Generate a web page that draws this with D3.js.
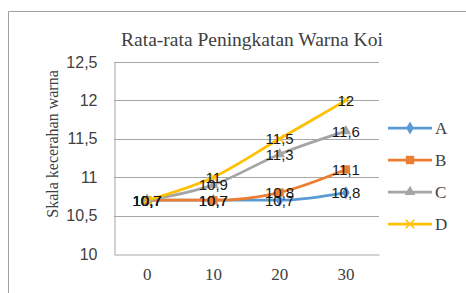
<html>
<head>
<script src="https://cdn.jsdelivr.net/npm/d3@7"></script>
<style>
body { margin: 0; background: white; }
</style>
</head>
<body>
<script>
var days = ["0", "10", "20", "30"];
var seriesNames = ["A", "B", "C", "D"];
var valA = [10.7, 10.7, 10.7, 10.8];
var valB = [10.7, 10.7, 10.8, 11.1];
var valC = [10.7, 10.9, 11.3, 11.6];
var valD = [10.7, 11, 11.5, 12];
var yTicks = [10, 10.5, 11, 11.5, 12, 12.5];
var colors = ["#5b9bd5", "#ed7d31", "#a5a5a5", "#ffc000"];

var series = [valA, valB, valC, valD].map(function(v, i){
  return { name: seriesNames[i], values: v, color: colors[i] };
});

var width = 466, height = 293;
var svg = d3.select("body").append("svg").attr("width", width).attr("height", height).style("background", "white");

// outer chart frame
svg.append("path").attr("d", "M8.5," + height + "V11.5H" + width)
  .attr("fill", "none").attr("stroke", "#a0a0a0").attr("stroke-width", 1);

var x = d3.scaleBand().domain(days).range([114, 379]);
var y = d3.scaleLinear().domain([10, 12.5]).range([254, 62]);

var fmt = function(d){ return String(d).replace(".", ","); };
var sans = "'Liberation Sans', Arial, sans-serif";
var serif = "'Liberation Serif', 'Times New Roman', serif";

// gridlines
svg.append("g").selectAll("line").data(yTicks.slice(1)).enter().append("line")
  .attr("x1", 114).attr("x2", 379)
  .attr("y1", function(d){ return Math.round(y(d)) + 0.5; })
  .attr("y2", function(d){ return Math.round(y(d)) + 0.5; })
  .attr("stroke", "#a6a6a6").attr("stroke-width", 1);

// axes
var yAxis = svg.append("g").attr("transform", "translate(114.5,0)")
  .call(d3.axisLeft(y).tickValues(yTicks).tickSize(0).tickPadding(17).tickFormat(fmt));
yAxis.select(".domain").attr("stroke", "#a6a6a6");
yAxis.selectAll("text").attr("font-family", sans).attr("font-size", 16).attr("fill", "#404040");

var xAxis = svg.append("g").attr("transform", "translate(0,254.5)")
  .call(d3.axisBottom(x).tickSize(0).tickPadding(13));
xAxis.select(".domain").attr("stroke", "#a6a6a6");
xAxis.selectAll("text").attr("font-family", serif).attr("font-size", 17).attr("fill", "#404040");

// title
svg.append("text").attr("x", 252).attr("y", 45.5).attr("text-anchor", "middle")
  .attr("font-family", serif).attr("font-size", 19.5).attr("fill", "#404040")
  .text("Rata-rata Peningkatan Warna Koi");

// y axis title
svg.append("text").attr("transform", "translate(58,144) rotate(-90)").attr("text-anchor", "middle")
  .attr("font-family", serif).attr("font-size", 16).attr("fill", "#404040")
  .text("Skala kecerahan warna");

var line = d3.line()
  .x(function(d, i){ return x(days[i]) + x.bandwidth() / 2; })
  .y(function(d){ return y(d); })
  .curve(d3.curveMonotoneX);

var symbols = [d3.symbolDiamond, d3.symbolSquare, d3.symbolTriangle, d3.symbolX];
var symSize = [50, 70, 50, 50];

function drawMarker(g, i, cx, cy, c) {
  g.append("path").attr("d", d3.symbol().type(symbols[i]).size(symSize[i])())
    .attr("transform", "translate(" + cx + "," + cy + ")")
    .attr("fill", i === 3 ? "none" : c).attr("stroke", c).attr("stroke-width", i === 3 ? 1.5 : 0);
}

series.forEach(function(s, i){
  svg.append("path").datum(s.values).attr("d", line)
    .attr("fill", "none").attr("stroke", s.color).attr("stroke-width", 2.75).attr("stroke-linejoin", "round");
  var g = svg.append("g");
  s.values.forEach(function(v, j){
    drawMarker(g, i, x(days[j]) + x.bandwidth() / 2, y(v), s.color);
  });
});

// data labels
series.forEach(function(s){
  svg.append("g").selectAll("text").data(s.values).enter().append("text")
    .attr("x", function(d, j){ return x(days[j]) + x.bandwidth() / 2; })
    .attr("y", function(d){ return y(d) + 5.5; })
    .attr("text-anchor", "middle")
    .attr("font-family", sans).attr("font-size", 15)
    .attr("fill", "#1a1a1a")
    .text(function(d){ return fmt(d); });
});

// legend
var legY = d3.scalePoint().domain(seriesNames).range([128, 224]);
var leg = svg.append("g");
series.forEach(function(s, i){
  var ly = legY(s.name);
  leg.append("line").attr("x1", 388).attr("x2", 432).attr("y1", ly).attr("y2", ly)
    .attr("stroke", s.color).attr("stroke-width", 2.75);
  drawMarker(leg, i, 410, ly, s.color);
  leg.append("text").attr("x", 435).attr("y", ly + 6)
    .attr("font-family", serif).attr("font-size", 17).attr("fill", "#404040")
    .text(s.name);
});
</script>
</body>
</html>
